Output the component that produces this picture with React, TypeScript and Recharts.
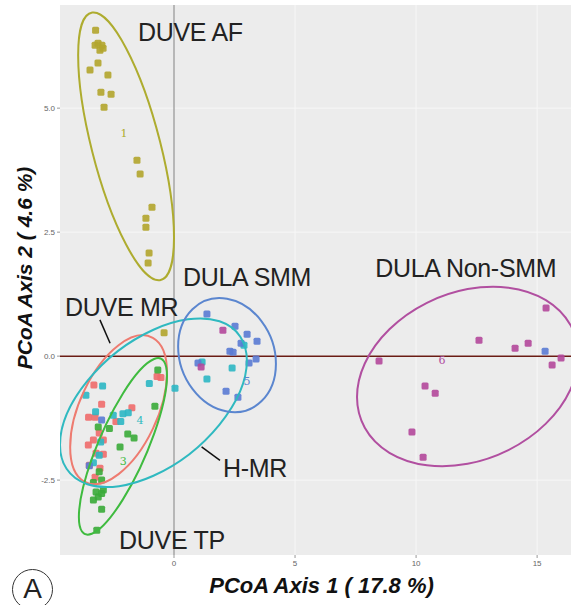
// @ts-nocheck
import React from 'react'
import { ScatterChart, Scatter, XAxis, YAxis, ZAxis, CartesianGrid, ReferenceLine, Label } from 'recharts'

const W = 584
const H = 605
const MARGIN = { top: 5, right: 13, bottom: 20, left: 0 }
const Y_AXIS_W = 60
const X_AXIS_H = 30
const X_DOMAIN = [-4.71, 16.4]
const Y_DOMAIN = [-4.01, 7.08]
const X_TICKS = [0, 5, 10, 15]
const Y_TICKS = [-2.5, 0, 2.5, 5]

// sample scores (PCoA axis 1, axis 2)
const duveAF = [
  { x: -3.24, y: 6.57 }, { x: -3.26, y: 6.27 }, { x: -3.14, y: 6.31 }, { x: -2.98, y: 6.27 },
  { x: -3.06, y: 6.17 }, { x: -2.93, y: 6.21 }, { x: -3.14, y: 5.91 }, { x: -3.47, y: 5.77 },
  { x: -2.73, y: 5.67 }, { x: -3.02, y: 5.32 }, { x: -2.6, y: 5.28 }, { x: -2.89, y: 5.02 },
  { x: -1.53, y: 3.95 }, { x: -1.4, y: 3.67 }, { x: -0.91, y: 3.0 }, { x: -1.16, y: 2.78 },
  { x: -1.16, y: 2.6 }, { x: -1.03, y: 2.08 }, { x: -1.07, y: 1.88 }, { x: -0.41, y: 0.47 },
]
const duveMR = [
  { x: -0.7, y: -0.41 }, { x: -0.54, y: -0.43 }, { x: -3.31, y: -0.58 }, { x: -2.99, y: -0.97 },
  { x: -1.74, y: -1.04 }, { x: -3.53, y: -1.23 }, { x: -3.26, y: -1.23 }, { x: -2.4, y: -1.32 },
  { x: -3.09, y: -1.55 }, { x: -3.33, y: -1.69 }, { x: -2.92, y: -1.69 }, { x: -3.54, y: -1.79 },
  { x: -3.22, y: -1.96 }, { x: -2.92, y: -1.98 }, { x: -3.5, y: -2.2 }, { x: -3.06, y: -2.26 },
  { x: -3.26, y: -2.44 },
]
const duveTP = [
  { x: -0.67, y: -0.28 }, { x: -0.79, y: -1.01 }, { x: -2.67, y: -1.46 }, { x: -3.13, y: -1.43 },
  { x: -1.91, y: -1.57 }, { x: -1.65, y: -1.65 }, { x: -2.23, y: -1.83 }, { x: -3.09, y: -2.33 },
  { x: -2.99, y: -2.5 }, { x: -3.33, y: -2.55 }, { x: -2.92, y: -2.7 }, { x: -3.22, y: -2.74 },
  { x: -2.99, y: -2.77 }, { x: -3.13, y: -2.84 }, { x: -3.33, y: -2.9 }, { x: -2.99, y: -3.09 },
  { x: -3.19, y: -3.51 },
]
const hMR = [
  { x: -2.95, y: -0.6 }, { x: -1.02, y: -0.55 }, { x: 0.04, y: -0.65 }, { x: -3.64, y: -0.79 },
  { x: -3.24, y: -1.12 }, { x: -2.51, y: -1.19 }, { x: -2.11, y: -1.16 }, { x: -1.89, y: -1.14 },
  { x: -2.2, y: -1.32 }, { x: -3.03, y: -1.73 }, { x: -3.09, y: -2.0 }, { x: -3.33, y: -2.15 },
  { x: 2.89, y: 0.22 }, { x: 2.4, y: -0.24 }, { x: 1.36, y: -0.46 }, { x: 1.16, y: -0.12 },
]
const dulaSMM = [
  { x: 1.36, y: 0.85 }, { x: 2.52, y: 0.6 }, { x: 3.02, y: 0.44 }, { x: 3.43, y: 0.3 },
  { x: 2.77, y: 0.26 }, { x: 2.31, y: 0.1 }, { x: 2.44, y: 0.08 }, { x: 3.1, y: -0.14 },
  { x: 3.39, y: -0.06 }, { x: 0.99, y: -0.14 }, { x: 2.15, y: -0.71 }, { x: 2.64, y: -0.83 },
  { x: -2.99, y: -1.29 }, { x: -3.5, y: -2.21 }, { x: 15.33, y: 0.1 },
]
const dulaNonSMM = [
  { x: 8.47, y: -0.1 }, { x: 12.6, y: 0.32 }, { x: 14.09, y: 0.16 }, { x: 14.63, y: 0.26 },
  { x: 15.99, y: -0.04 }, { x: 15.62, y: -0.18 }, { x: 10.37, y: -0.6 }, { x: 10.79, y: -0.75 },
  { x: 9.83, y: -1.53 }, { x: 10.29, y: -2.04 }, { x: 15.37, y: 0.97 }, { x: 2.02, y: 0.52 },
  { x: 1.12, y: -0.22 },
]

// group ellipses: centre, x / y half-extent, correlation
const ellipses = [
  { group: 'af', x: -1.98, y: 4.23, rx: 1.98, ry: 2.7, rho: -0.68 },
  { group: 'mr', x: -2.29, y: -1.08, rx: 2.0, ry: 1.5, rho: 0.5 },
  { group: 'tp', x: -2.11, y: -1.82, rx: 1.82, ry: 1.78, rho: 0.8 },
  { group: 'hmr', x: -0.85, y: -0.94, rx: 3.86, ry: 1.7, rho: 0.5 },
  { group: 'smm', x: 2.19, y: 0.02, rx: 2.02, ry: 1.15, rho: -0.15 },
  { group: 'non', x: 12.13, y: -0.41, rx: 4.57, ry: 1.81, rho: 0.23 },
]

// group centroid numbers
const centroids = [
  { group: 'af', x: -2.07, y: 4.5, label: '1' },
  { group: 'hmr', x: -1.4, y: -1.28, label: '4' },
  { group: 'tp', x: -2.1, y: -2.11, label: '3' },
  { group: 'smm', x: 3.02, y: -0.5, label: '5' },
  { group: 'non', x: 11.07, y: -0.08, label: '6' },
]

// group names (left edge, baseline)
const groupLabels = [
  { x: -1.49, y: 6.35, label: 'DUVE AF' },
  { x: 0.37, y: 1.41, label: 'DULA SMM' },
  { x: 8.31, y: 1.59, label: 'DULA Non-SMM' },
  { x: -4.5, y: 0.81, label: 'DUVE MR' },
  { x: 2.02, y: -2.44, label: 'H-MR' },
  { x: -2.27, y: -3.89, label: 'DUVE TP' },
]
const leaders = [
  [{ x: -3.06, y: 0.73 }, { x: -2.64, y: 0.26 }],
  [{ x: 1.14, y: -1.83 }, { x: 1.9, y: -2.1 }],
]

const COLORS = {
  af: { point: '#b3a52c', line: '#aeac2f' },
  mr: { point: '#ef6b6b', line: '#ee7b70' },
  tp: { point: '#3aab38', line: '#3fbb3f' },
  hmr: { point: '#2cb7c4', line: '#2fb9c0' },
  smm: { point: '#5a7bd4', line: '#5b86cf' },
  non: { point: '#b4489b', line: '#b14fa0' },
}

const plotW = W - MARGIN.left - MARGIN.right - Y_AXIS_W
const plotH = H - MARGIN.top - MARGIN.bottom - X_AXIS_H
const sx = plotW / (X_DOMAIN[1] - X_DOMAIN[0])
const sy = plotH / (Y_DOMAIN[1] - Y_DOMAIN[0])

const ellipseShape = (color) => (p) => {
  const { cx, cy, payload } = p
  const ax = payload.rx * sx
  const ay = -payload.rho * payload.ry * sy
  const by = -Math.sqrt(1 - payload.rho * payload.rho) * payload.ry * sy
  return (
    <ellipse cx={0} cy={0} rx={1} ry={1} fill="none" stroke={color} strokeWidth={2}
      vectorEffect="non-scaling-stroke" transform={`matrix(${ax} ${ay} 0 ${by} ${cx} ${cy})`} />
  )
}

const squareShape = (color) => (p) => (
  <rect x={p.cx - 3.5} y={p.cy - 3.5} width={7} height={7} rx={1.5} fill={color} fillOpacity={0.9} />
)

const centroidShape = (p) => (
  <text x={p.cx} y={p.cy + 4} textAnchor="middle" fontSize={11} fontFamily="DejaVu Serif, serif"
    fill={COLORS[p.payload.group].line}>{p.payload.label}</text>
)

const nameShape = (p) => (
  <text x={p.cx} y={p.cy} fontSize={25} fill="#222" letterSpacing={-0.3}>{p.payload.label}</text>
)

const groups = [
  ['af', duveAF], ['mr', duveMR], ['tp', duveTP], ['hmr', hMR], ['smm', dulaSMM], ['non', dulaNonSMM],
]

export default function App() {
  return (
    <div style={{ position: 'absolute', left: 0, top: 0, width: W, height: H, background: '#fff', fontFamily: '"Liberation Sans", Arial, sans-serif' }}>
      <ScatterChart width={W} height={H} margin={MARGIN}>
        <CartesianGrid fill="#ececec" stroke="#f7f7f7" strokeWidth={1} horizontalValues={Y_TICKS} verticalValues={X_TICKS} />
        <XAxis type="number" dataKey="x" domain={X_DOMAIN} ticks={X_TICKS} allowDataOverflow height={X_AXIS_H}
          axisLine={false} tickSize={3} tickLine={{ stroke: '#999' }} tick={{ fontSize: 8, fill: '#666' }}>
          <Label content={({ viewBox }) => (
            <text x={viewBox.x + viewBox.width / 2 + 6} y={viewBox.y + 38} textAnchor="middle" fontSize={22}
              fontWeight="bold" fontStyle="italic" fill="#111">PCoA Axis 1 ( 17.8 %)</text>
          )} />
        </XAxis>
        <YAxis type="number" dataKey="y" domain={Y_DOMAIN} ticks={Y_TICKS} allowDataOverflow width={Y_AXIS_W}
          axisLine={false} tickSize={3} tickLine={{ stroke: '#999' }} tick={{ fontSize: 8, fill: '#666' }}
          tickFormatter={(v) => Number(v).toFixed(1)}>
          <Label content={({ viewBox }) => {
            const lx = viewBox.x + 32
            const ly = viewBox.y + viewBox.height / 2 - 12
            return (
              <text x={lx} y={ly} transform={`rotate(-90 ${lx} ${ly})`} textAnchor="middle" fontSize={21}
                fontWeight="bold" fontStyle="italic" fill="#111">PCoA Axis 2 ( 4.6 %)</text>
            )
          }} />
        </YAxis>
        <ZAxis range={[36, 36]} />
        <ReferenceLine x={0} stroke="#7d7d7d" strokeWidth={1} />
        <ReferenceLine y={0} stroke="#6a1c14" strokeWidth={1.5} />
        {groups.map(([g, d]) => (
          <Scatter key={g} data={d} shape={squareShape(COLORS[g].point)} isAnimationActive={false} />
        ))}
        {ellipses.map((e) => (
          <Scatter key={'e' + e.group} data={[e]} shape={ellipseShape(COLORS[e.group].line)} isAnimationActive={false} />
        ))}
        <Scatter data={centroids} shape={centroidShape} isAnimationActive={false} />
        {leaders.map((seg, i) => (
          <ReferenceLine key={'l' + i} segment={seg} stroke="#111" strokeWidth={1.5} ifOverflow="visible" />
        ))}
        <Scatter data={groupLabels} shape={nameShape} isAnimationActive={false} />
      </ScatterChart>
      <div style={{ position: 'absolute', left: 12, top: 569, width: 39, height: 39, border: '1.5px solid #333', borderRadius: '50%',
        textAlign: 'center', lineHeight: '38px', fontSize: 28, color: '#222' }}>A</div>
    </div>
  )
}
